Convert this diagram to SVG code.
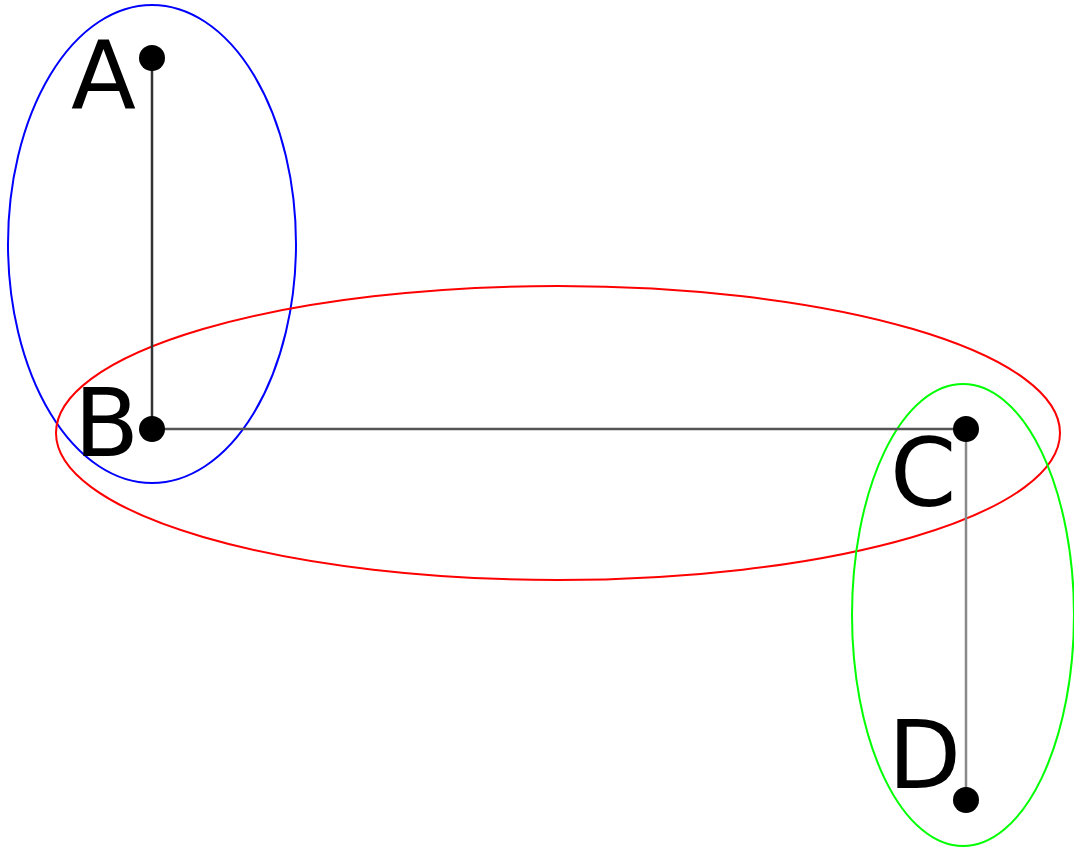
<svg xmlns="http://www.w3.org/2000/svg" width="1074" height="850" viewBox="0 0 1074 850">
<style>
.lbl{font-family:"DejaVu Sans",sans-serif;font-size:95px;fill:#000}
.dot{fill:#000}
.hull{fill:none;stroke-width:2}
</style>
<rect width="1074" height="850" fill="#fff"/>
<g id="hulls">
<ellipse class="hull" cx="152" cy="244" rx="144" ry="239" stroke="#0000ff"/>
<ellipse class="hull" cx="558" cy="433" rx="502" ry="147" stroke="#ff0000"/>
<ellipse class="hull" cx="963" cy="615" rx="111" ry="231" stroke="#00ff00"/>
</g>
<g id="connectors">
<line x1="152" y1="58" x2="152" y2="429" stroke="#333" stroke-width="2.5"/>
<line x1="152" y1="429" x2="966" y2="429" stroke="#555" stroke-width="2.5"/>
<line x1="966" y1="429" x2="966" y2="800" stroke="#888" stroke-width="2.5"/>
</g>
<g id="A"><circle class="dot" cx="152" cy="58" r="13"/><text class="lbl" x="71" y="109">A</text></g>
<g id="B"><circle class="dot" cx="152" cy="429" r="13"/><text class="lbl" x="74" y="456">B</text></g>
<g id="C"><circle class="dot" cx="966" cy="429" r="13"/><text class="lbl" x="890" y="506">C</text></g>
<g id="D"><circle class="dot" cx="966" cy="800" r="13"/><text class="lbl" x="888" y="788">D</text></g>
</svg>
